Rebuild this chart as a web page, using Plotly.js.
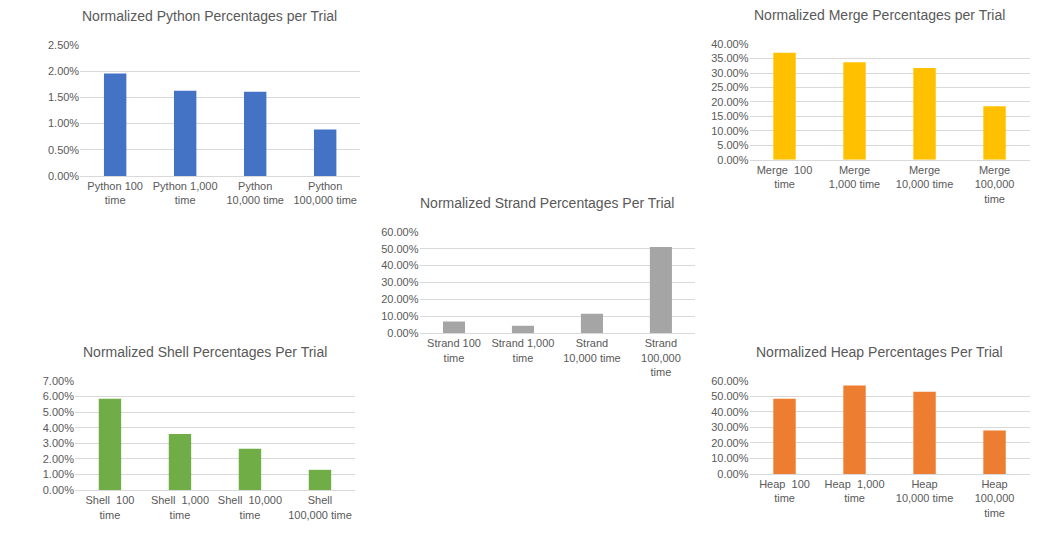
<!DOCTYPE html>
<html>
<head>
<meta charset="utf-8">
<script src="https://cdn.plot.ly/plotly-3.0.1.min.js"></script>
<style>body{margin:0;background:#fff}#chart{width:1041px;height:538px}</style>
</head>
<body>
<div id="chart"></div>
<script>
// values (fractions)
var pythonLabels = ['Python 100<br>time', 'Python 1,000<br>time', 'Python<br>10,000 time', 'Python<br>100,000 time'];
var pythonValues = [0.0196, 0.0163, 0.0161, 0.0089];
var mergeLabels = ['Merge  100<br>time', 'Merge<br>1,000 time', 'Merge<br>10,000 time', 'Merge<br>100,000<br>time'];
var mergeValues = [0.370, 0.337, 0.317, 0.185];
var strandLabels = ['Strand 100<br>time', 'Strand 1,000<br>time', 'Strand<br>10,000 time', 'Strand<br>100,000<br>time'];
var strandValues = [0.068, 0.043, 0.115, 0.510];
var shellLabels = ['Shell  100<br>time', 'Shell  1,000<br>time', 'Shell  10,000<br>time', 'Shell<br>100,000 time'];
var shellValues = [0.0585, 0.036, 0.0265, 0.013];
var heapLabels = ['Heap  100<br>time', 'Heap  1,000<br>time', 'Heap<br>10,000 time', 'Heap<br>100,000<br>time'];
var heapValues = [0.485, 0.570, 0.530, 0.280];

var charts = [
    {labels: pythonLabels, values: pythonValues, color: '#4472C4', title: 'Normalized Python Percentages per Trial',
        x: [0.077, 0.346], y: [0.673, 0.916], max: 0.025, dtick: 0.005},
    {labels: mergeLabels, values: mergeValues, color: '#FFC000', title: 'Normalized Merge Percentages per Trial',
        x: [0.720, 0.989], y: [0.703, 0.918], max: 0.40, dtick: 0.05},
    {labels: strandLabels, values: strandValues, color: '#A5A5A5', title: 'Normalized Strand Percentages Per Trial',
        x: [0.403, 0.668], y: [0.381, 0.569], max: 0.60, dtick: 0.10},
    {labels: shellLabels, values: shellValues, color: '#70AD47', title: 'Normalized Shell Percentages Per Trial',
        x: [0.072, 0.341], y: [0.089, 0.292], max: 0.07, dtick: 0.01},
    {labels: heapLabels, values: heapValues, color: '#ED7D31', title: 'Normalized Heap Percentages Per Trial',
        x: [0.720, 0.989], y: [0.119, 0.292], max: 0.60, dtick: 0.10}
];

var data = [];
var layout = {
    width: 1041, height: 538,
    margin: {l: 0, r: 0, t: 0, b: 0},
    paper_bgcolor: '#fff', plot_bgcolor: '#fff',
    showlegend: false,
    bargap: 0.68,
    font: {family: 'Liberation Sans, Arial, sans-serif', size: 11, color: '#595959'},
    annotations: []
};

charts.forEach(function (c, i) {
    var n = i + 1;
    var xa = 'xaxis' + (n === 1 ? '' : n), ya = 'yaxis' + (n === 1 ? '' : n);
    data.push({
        type: 'bar', x: c.labels, y: c.values,
        xaxis: 'x' + (n === 1 ? '' : n), yaxis: 'y' + (n === 1 ? '' : n),
        marker: {color: c.color}, hoverinfo: 'y'
    });
    layout[xa] = {domain: c.x, anchor: 'y' + (n === 1 ? '' : n), showline: true, linecolor: '#D9D9D9',
        ticks: '', tickfont: {size: 11, color: '#595959'}, fixedrange: true};
    layout[ya] = {domain: c.y, anchor: 'x' + (n === 1 ? '' : n), range: [0, c.max], dtick: c.dtick,
        tickformat: '.2%', showgrid: true, gridcolor: '#D9D9D9', zeroline: false, showline: false,
        ticks: '', tickfont: {size: 11, color: '#595959'}, fixedrange: true};
    layout.annotations.push({
        text: c.title, xref: 'paper', yref: 'paper',
        x: (c.x[0] + c.x[1]) / 2 - 0.01, y: c.y[1] + 0.035, xanchor: 'center', yanchor: 'bottom',
        showarrow: false, font: {size: 14, color: '#595959'}
    });
});

Plotly.newPlot('chart', data, layout, {displayModeBar: false, staticPlot: true});
</script>
</body>
</html>
